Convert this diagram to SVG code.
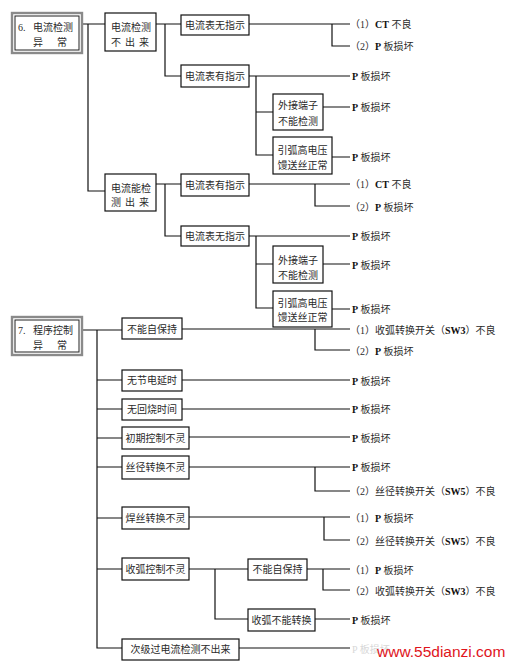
<svg xmlns="http://www.w3.org/2000/svg" width="511" height="664" viewBox="0 0 511 664">
<style>
text{font-family:"Liberation Serif","Noto Sans CJK SC",serif;font-size:10px;fill:#2a2a2a}
.b{font-weight:bold;fill:#111}
.box{fill:#fff;stroke:#111;stroke-width:1.2}
.hdo{fill:#fff;stroke:#8a8a8a;stroke-width:2.4}
.hdi{fill:none;stroke:#222;stroke-width:1}
.c{text-anchor:middle}
#connectors path{fill:none;stroke:#111;stroke-width:1.2}
.wm{font-family:"Liberation Sans",Arial,sans-serif;font-size:15.5px;fill:#e0141c}
.faint{fill:#d8d8d8}
</style>
<rect width="511" height="664" fill="#fff"/>
<g id="connectors">
<path d="M82 24H105M88 24V191H105M156 24H181M165 24V76H181M249 24H350M332 24V46H350M249 76H350M256 76V155H273M256 112H273M323 107H350M332 157H350"/>
<path d="M156 184H181M165 184V236H181M249 184H350M315 184V206H350M249 236H350M256 236V308H273M256 264H273M323 264H350M332 309H350"/>
<path d="M82 330H122M97 330V648H122M182 329H350M315 329V350H350M97 380H122M182 380H350M97 409H122M182 409H350M97 438H122M189 437H350M97 467H122M189 467H350M315 467V491H350M97 518H122M189 517H350M324 517V540H350M97 569H122M189 569H248M215 569V619H248M307 569H350M323 569V590H350M315 619H350M239 648H350"/>
</g>
<g id="h6">
<rect class="hdo" x="12" y="13" width="70" height="40"/>
<rect class="hdi" x="15" y="16" width="64" height="34"/>
<text x="18" y="31">6.</text><text x="33" y="31">电流检测</text>
<text x="33 57" y="46">异常</text>
</g>
<g id="n6a"><rect class="box" x="105" y="13" width="51" height="38"/>
<text x="111" y="31">电流检测</text><text x="111 125 139" y="46">不出来</text></g>
<g id="n6b"><rect class="box" x="181" y="15" width="68" height="20"/><text class="c" x="215" y="28.5">电流表无指示</text></g>
<g id="n6c"><rect class="box" x="181" y="65" width="68" height="22"/><text class="c" x="215" y="79.5">电流表有指示</text></g>
<g id="n6d"><rect class="box" x="273" y="94" width="50" height="36"/><text class="c" x="298" y="109">外接端子</text><text class="c" x="298" y="125">不能检测</text></g>
<g id="n6e"><rect class="box" x="273" y="137" width="59" height="37"/><text class="c" x="302.5" y="154">引弧高电压</text><text class="c" x="302.5" y="169">馒送丝正常</text></g>
<g id="r6">
<text x="350" y="27.5">（1）<tspan class="b">CT</tspan> 不良</text>
<text x="350" y="49.5">（2）<tspan class="b">P</tspan> 板损坏</text>
<text x="352" y="79.5"><tspan class="b">P</tspan> 板损坏</text>
<text x="352" y="110.5"><tspan class="b">P</tspan> 板损坏</text>
<text x="352" y="160.5"><tspan class="b">P</tspan> 板损坏</text>
</g>
<g id="n6f"><rect class="box" x="105" y="174" width="51" height="37"/>
<text x="111" y="192">电流能检</text><text x="111 125 139" y="206">测出来</text></g>
<g id="n6g"><rect class="box" x="181" y="174" width="68" height="22"/><text class="c" x="215" y="188.5">电流表有指示</text></g>
<g id="n6h"><rect class="box" x="181" y="226" width="68" height="20"/><text class="c" x="215" y="239.5">电流表无指示</text></g>
<g id="n6i"><rect class="box" x="273" y="246" width="50" height="37"/><text class="c" x="298" y="263.5">外接端子</text><text class="c" x="298" y="278.5">不能检测</text></g>
<g id="n6j"><rect class="box" x="273" y="291" width="59" height="36"/><text class="c" x="302.5" y="306.5">引弧高电压</text><text class="c" x="302.5" y="321">馒送丝正常</text></g>
<g id="r6b">
<text x="350" y="187.5">（1）<tspan class="b">CT</tspan> 不良</text>
<text x="350" y="210.5">（2）<tspan class="b">P</tspan> 板损坏</text>
<text x="352" y="239.5"><tspan class="b">P</tspan> 板损坏</text>
<text x="352" y="268.5"><tspan class="b">P</tspan> 板损坏</text>
<text x="352" y="312.5"><tspan class="b">P</tspan> 板损坏</text>
</g>
<g id="h7">
<rect class="hdo" x="12" y="317" width="70" height="38"/>
<rect class="hdi" x="15" y="320" width="64" height="32"/>
<text x="18" y="334">7.</text><text x="33" y="334">程序控制</text>
<text x="33 57" y="349">异常</text>
</g>
<g id="n7a"><rect class="box" x="122" y="318" width="60" height="21"/><text class="c" x="152" y="332.5">不能自保持</text></g>
<g id="n7b"><rect class="box" x="122" y="370" width="60" height="21"/><text class="c" x="152" y="384">无节电延时</text></g>
<g id="n7c"><rect class="box" x="122" y="399" width="60" height="21"/><text class="c" x="152" y="413">无回烧时间</text></g>
<g id="n7d"><rect class="box" x="122" y="427" width="67" height="22"/><text class="c" x="155.5" y="441.5">初期控制不灵</text></g>
<g id="n7e"><rect class="box" x="122" y="456" width="67" height="23"/><text class="c" x="155.5" y="471">丝径转换不灵</text></g>
<g id="n7f"><rect class="box" x="122" y="507" width="67" height="22"/><text class="c" x="155.5" y="521.5">焊丝转换不灵</text></g>
<g id="n7g"><rect class="box" x="122" y="558" width="67" height="22"/><text class="c" x="155.5" y="572.5">收弧控制不灵</text></g>
<g id="n7h"><rect class="box" x="248" y="559" width="59" height="21"/><text class="c" x="277.5" y="573">不能自保持</text></g>
<g id="n7i"><rect class="box" x="248" y="609" width="67" height="22"/><text class="c" x="281.5" y="623.5">收弧不能转换</text></g>
<g id="n7j"><rect class="box" x="122" y="639" width="117" height="21"/><text class="c" x="180.5" y="653">次级过电流检测不出来</text></g>
<g id="r7">
<text x="350" y="333.5">（1）收弧转换开关（<tspan class="b">SW3</tspan>）不良</text>
<text x="350" y="354.5">（2）<tspan class="b">P</tspan> 板损坏</text>
<text x="352" y="384.5"><tspan class="b">P</tspan> 板损坏</text>
<text x="352" y="412.5"><tspan class="b">P</tspan> 板损坏</text>
<text x="352" y="441.5"><tspan class="b">P</tspan> 板损坏</text>
<text x="352" y="470.5"><tspan class="b">P</tspan> 板损坏</text>
<text x="350" y="494.5">（2）丝径转换开关（<tspan class="b">SW5</tspan>）不良</text>
<text x="350" y="521.5">（1）<tspan class="b">P</tspan> 板损坏</text>
<text x="350" y="544.5">（2）丝径转换开关（<tspan class="b">SW5</tspan>）不良</text>
<text x="350" y="573.5">（1）<tspan class="b">P</tspan> 板损坏</text>
<text x="350" y="594.5">（2）收弧转换开关（<tspan class="b">SW3</tspan>）不良</text>
<text x="352" y="623.5"><tspan class="b">P</tspan> 板损坏</text>
<text class="faint" x="352" y="652.5">P 板损坏</text>
<text class="wm" x="377" y="657">www.55dianzi.com</text>
</g>
</svg>
